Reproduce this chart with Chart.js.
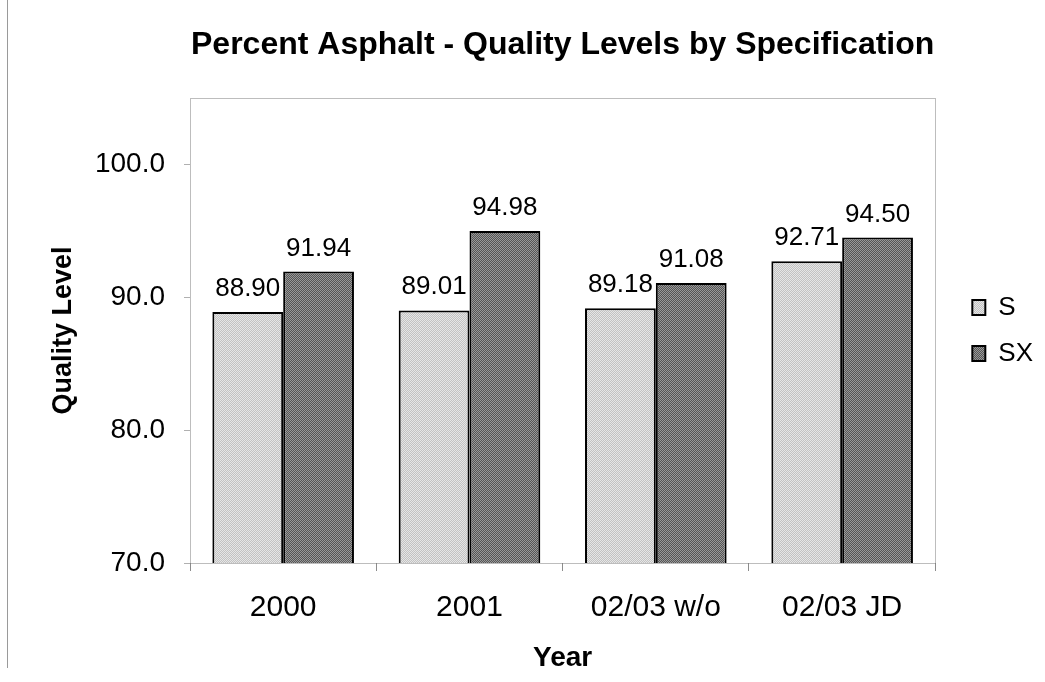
<!DOCTYPE html>
<html>
<head>
<meta charset="utf-8">
<title>Percent Asphalt - Quality Levels by Specification</title>
<script src="https://cdn.jsdelivr.net/npm/chart.js@4"></script>
<style>
  body { margin: 0; background: #fff; }
  #wrap { position: relative; width: 1045px; height: 682px; }
  #edge { position: absolute; left: 7px; top: 0; height: 668px; border-left: 1px solid #9a9a9a; }
</style>
</head>
<body>
<div id="wrap">
  <div id="edge"></div>
  <canvas id="myChart" width="1045" height="682"></canvas>
</div>
<script>
// data
var years = ["2000", "2001", "02/03 w/o", "02/03 JD"];
var sValues = [88.90, 89.01, 89.18, 92.71];
var sxValues = [91.94, 94.98, 91.08, 94.50];
var seriesNames = ["S", "SX"];
var yMin = 70, yMax = 105, yStep = 10;

var fontFamily = '"Liberation Sans", Arial, Helvetica, sans-serif';

// small dithered fills like the old spreadsheet patterns
function makePattern(a, b) {
  var c = document.createElement('canvas');
  c.width = 2; c.height = 2;
  var g = c.getContext('2d');
  g.fillStyle = a; g.fillRect(0, 0, 2, 2);
  g.fillStyle = b; g.fillRect(0, 0, 1, 1); g.fillRect(1, 1, 1, 1);
  return g.createPattern(c, 'repeat');
}
var lightFill = makePattern('#c2c2c2', '#e6e6e6');
var darkFill = makePattern('#555555', '#999999');

// value labels above bars
const valueLabels = {
  id: 'valueLabels',
  afterDatasetsDraw(chart) {
    const ctx = chart.ctx;
    ctx.save();
    ctx.font = '26px ' + fontFamily;
    ctx.fillStyle = '#000';
    ctx.textAlign = 'center';
    ctx.textBaseline = 'alphabetic';
    chart.data.datasets.forEach((ds, i) => {
      chart.getDatasetMeta(i).data.forEach((bar, j) => {
        ctx.fillText(ds.data[j].toFixed(2), bar.x, bar.y - 16);
      });
    });
    ctx.restore();
  }
};

// dotted frame round the plot area
const plotFrame = {
  id: 'plotFrame',
  beforeDatasetsDraw(chart) {
    const a = chart.chartArea;
    const ctx = chart.ctx;
    ctx.save();
    ctx.strokeStyle = '#7a7a7a';
    ctx.lineWidth = 1;
    ctx.setLineDash([1, 1]);
    ctx.strokeRect(Math.round(a.left) + 0.5, Math.round(a.top) + 0.5,
                   Math.round(a.right - a.left), Math.round(a.bottom - a.top));
    ctx.restore();
  }
};

new Chart(document.getElementById('myChart'), {
  type: 'bar',
  data: {
    labels: years,
    datasets: [{
      label: seriesNames[0],
      data: sValues,
      backgroundColor: lightFill,
      borderColor: '#000',
      borderWidth: 2,
      categoryPercentage: 0.76,
      barPercentage: 1.0
    }, {
      label: seriesNames[1],
      data: sxValues,
      backgroundColor: darkFill,
      borderColor: '#000',
      borderWidth: 2,
      categoryPercentage: 0.76,
      barPercentage: 1.0
    }]
  },
  options: {
    responsive: false,
    animation: false,
    layout: { padding: { left: 0, right: 2, top: 0, bottom: 0 } },
    plugins: {
      title: {
        display: true,
        fullSize: false,
        text: 'Percent Asphalt - Quality Levels by Specification',
        color: '#000',
        font: { family: fontFamily, size: 32, weight: 'bold' },
        padding: { top: 26, bottom: 33.6 }
      },
      legend: {
        position: 'right',
        fullSize: false,
        labels: {
          color: '#000',
          font: { family: fontFamily, size: 26 },
          boxWidth: 13,
          boxHeight: 15,
          padding: 20
        }
      },
      tooltip: { enabled: false }
    },
    scales: {
      x: {
        grid: { display: true, drawOnChartArea: false, offset: true, tickLength: 8, color: '#8c8c8c' },
        border: { display: false },
        ticks: { color: '#000', font: { family: fontFamily, size: 30 }, padding: 19 },
        title: {
          display: true, text: 'Year', color: '#000',
          font: { family: fontFamily, size: 28, weight: 'bold' },
          padding: { top: 0, bottom: 7 }
        },
        afterFit: function(s) { s.height = 119; }
      },
      y: {
        min: yMin,
        max: yMax,
        grid: { display: true, drawOnChartArea: false, tickLength: 6, color: '#b0b0b0' },
        border: { display: false },
        ticks: {
          stepSize: yStep,
          color: '#000',
          font: { family: fontFamily, size: 28 },
          padding: 19,
          callback: function(v) { return v.toFixed(1); }
        },
        afterBuildTicks: function(s) {
          s.ticks = s.ticks.filter(function(t) { return t.value % yStep === 0; });
        },
        title: {
          display: true, text: 'Quality Level', color: '#000',
          font: { family: fontFamily, size: 27, weight: 'bold' },
          padding: { top: 47, bottom: 0 }
        },
        afterFit: function(s) { s.width = 190; }
      },
      gap: {
        type: 'linear',
        position: 'right',
        display: true,
        grid: { display: false },
        border: { display: false },
        ticks: { display: false },
        afterFit: function(s) { s.width = 17; }
      }
    }
  },
  plugins: [valueLabels, plotFrame]
});
</script>
</body>
</html>
